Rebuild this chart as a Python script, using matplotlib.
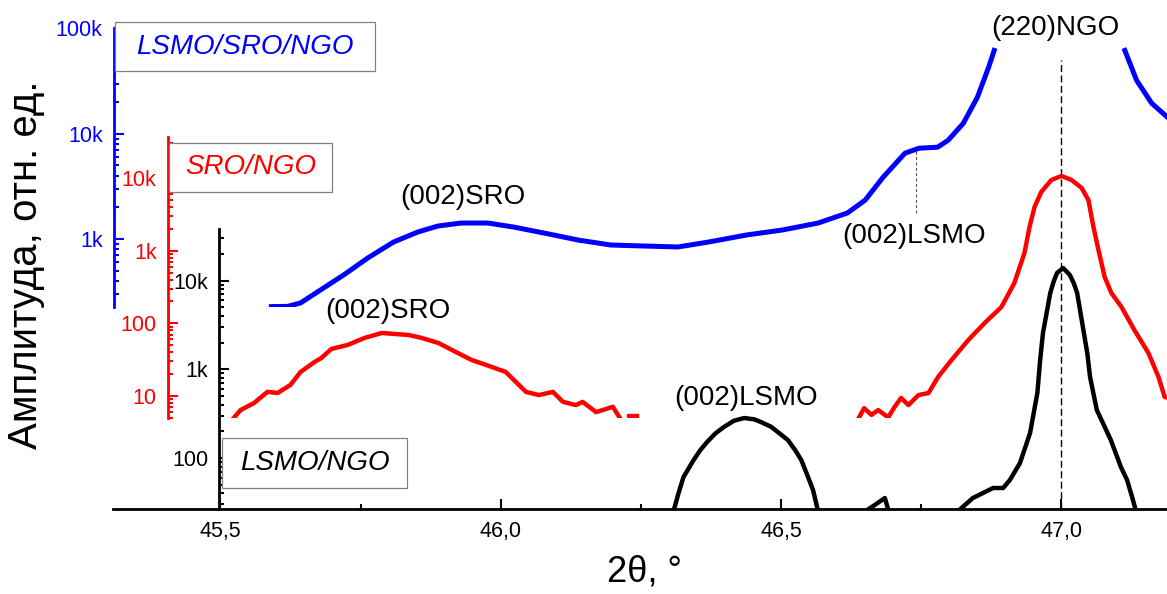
#!/usr/bin/env python3
import numpy as np
import matplotlib
matplotlib.use("Agg")
import matplotlib.pyplot as plt
from matplotlib.patches import Rectangle
from matplotlib.ticker import FixedLocator, LogLocator, FuncFormatter, NullFormatter, MultipleLocator

nan = np.nan

# LSMO/SRO/NGO (blue)
theta_blue = [45.591, 45.620, 45.643, 45.679, 45.720, 45.763, 45.809, 45.852, 45.888,
              45.929, 45.977, 46.023, 46.077, 46.138, 46.196, 46.255, 46.316, 46.371,
              46.438, 46.502, 46.566, 46.618, 46.650, 46.682, 46.721, 46.746, 46.779,
              46.798, 46.825, 46.850, 46.870, 46.880, nan, 47.113, 47.134, 47.161, 47.191]
amp_blue = [228, 229, 247, 329, 456, 661, 937, 1165, 1328,
            1418, 1418, 1299, 1140, 978, 877, 858, 840, 937,
            1091, 1217, 1418, 1764, 2343, 3870, 6535, 7288, 7447,
            8674, 12580, 22180, 42660, 61870, nan, 61870, 32140, 19450, 14030]

# SRO/NGO (red)
theta_red = [45.523, 45.536, 45.560, 45.584, 45.602, 45.625, 45.643, 45.668, 45.680,
             45.698, 45.727, 45.757, 45.788, 45.811, 45.836, 45.859, 45.889, 45.920,
             45.948, 45.979, 46.009, 46.027, 46.045, 46.068, 46.093, 46.111, 46.134,
             46.146, 46.170, 46.200, 46.213, nan, 46.229, 46.243, nan,
             46.638, 46.648, 46.661, 46.673, 46.691, 46.702, 46.714, 46.727, 46.745,
             46.763, 46.780, 46.804, 46.834, 46.863, 46.893, 46.916, 46.934, 46.943,
             46.952, 46.964, 46.982, 47.000, 47.018, 47.036, 47.048, 47.057, 47.066,
             47.077, 47.089, 47.107, 47.130, 47.155, 47.173, 47.184, 47.191]
amp_red = [4.9, 6.4, 8.0, 11.4, 11.0, 14.2, 21.4, 29.4, 33.3,
           44.4, 50.4, 62.9, 73.6, 71.3, 69.1, 62.9, 53.6, 40.3,
           31.3, 25.9, 21.4, 15.6, 11.4, 10.3, 11.4, 8.3, 7.5,
           8.3, 6.0, 7.1, 4.9, nan, 5.3, 5.3, nan,
           4.9, 6.8, 5.5, 6.4, 5.1, 7.0, 9.4, 7.5, 10.3,
           11.0, 18.3, 31.3, 59.0, 101, 168, 359, 929, 2117,
           3990, 6412, 9383, 10640, 9383, 7278, 4977, 2117, 1021,
           434, 261, 168, 80.9, 39.1, 18.3, 9.7, 9.4]

# LSMO/NGO (black)
theta_black = [46.308, 46.317, 46.326, 46.344, 46.356, 46.368, 46.383, 46.398, 46.416,
               46.434, 46.452, 46.464, 46.482, 46.494, 46.512, 46.525, 46.536, 46.548,
               46.557, 46.566, nan, 46.650, 46.667, 46.685, 46.692, nan,
               46.815, 46.842, 46.878, 46.896, 46.908, 46.926, 46.944, 46.957, 46.962,
               46.967, 46.980, 46.986, 46.992, 47.003, 47.015, 47.022, 47.028, 47.040,
               47.046, 47.051, 47.063, 47.088, 47.106, 47.117, 47.126, 47.133]
amp_black = [25, 40, 61.1, 95, 123, 151.5, 190, 223.7, 263.6,
             282.6, 273, 254.7, 225.4, 196.5, 159.6, 123, 94.9, 61.1,
             43.5, 25, nan, 25, 29.5, 35.4, 25, nan,
             25, 35.4, 45.9, 45.9, 56.5, 87.8, 191.4, 541, 1275,
             2571, 7265, 9745, 12220, 13900, 11590, 9347, 7265, 2571,
             1529, 820, 348, 159.6, 79.2, 56.5, 36.3, 25]

x_ticks = [45.5, 46.0, 46.5, 47.0]
x_tick_labels = ["45,5", "46,0", "46,5", "47,0"]
x_range = (45.3085, 47.1882)

# y ranges of the three stacked log axes
ylim_blue = (226, 1.01e5)
ylim_red = (4.98, 36600)
ylim_black = (26.6, 38300)

sample_names = ["LSMO/SRO/NGO", "SRO/NGO", "LSMO/NGO"]
peak_labels = ["(002)SRO", "(002)SRO", "(002)LSMO", "(002)LSMO", "(220)NGO"]

W, H = 1167, 594


def fmt_k(v, pos):
    if v >= 1000:
        return f"{v / 1000:g}k"
    return f"{v:g}"


def fx(x):
    return x / W


def fy(y):
    return 1 - y / H


def log_axes(fig, top_px, bottom_px, ylim, spine_x, color, majors):
    """Ось с логарифмической шкалой, занимающая полосу [top_px, bottom_px]."""
    left = 113 / W
    ax = fig.add_axes([left, fy(bottom_px), 1 - left, (bottom_px - top_px) / H])
    ax.set_facecolor("none")
    ax.set_xlim(*x_range)
    ax.set_yscale("log")
    ax.set_ylim(*ylim)
    for s in ("top", "right"):
        ax.spines[s].set_visible(False)
    ax.spines["left"].set_position(("data", spine_x))
    ax.spines["left"].set_color(color)
    ax.spines["left"].set_linewidth(2)
    ax.yaxis.set_major_locator(FixedLocator(majors))
    ax.yaxis.set_major_formatter(FuncFormatter(fmt_k))
    ax.yaxis.set_minor_locator(LogLocator(base=10, subs=np.arange(2, 10), numticks=30))
    ax.yaxis.set_minor_formatter(NullFormatter())
    ax.tick_params(axis="y", which="both", direction="in", colors=color,
                   labelsize=15.5, pad=8, width=1.5)
    ax.tick_params(axis="y", which="major", length=7)
    ax.tick_params(axis="y", which="minor", length=3.5)
    return ax


def sample_box(fig, x0, y0, x1, y1, text, color):
    rect = Rectangle((fx(x0), fy(y1)), (x1 - x0) / W, (y1 - y0) / H,
                     transform=fig.transFigure, facecolor="white",
                     edgecolor="#808080", linewidth=0.9, zorder=5)
    fig.add_artist(rect)
    fig.text(fx((x0 + x1) / 2), fy((y0 + y1) / 2), text, color=color, style="italic",
             fontsize=20, ha="center", va="center", zorder=6)


def main():
    plt.rcParams["font.family"] = ["Liberation Sans", "DejaVu Sans"]
    fig = plt.figure(figsize=(W / 100, H / 100), dpi=100)

    ax_k = log_axes(fig, 229, 509, ylim_black, 45.498, "black", [100, 1000, 10000])
    ax_r = log_axes(fig, 137, 418, ylim_red, 45.406, "#ff0000", [10, 100, 1000, 10000])
    ax_b = log_axes(fig, 28, 307, ylim_blue, 45.310, "#0000ff", [1000, 10000, 100000])

    for ax in (ax_r, ax_b):
        ax.spines["bottom"].set_visible(False)
        ax.tick_params(axis="x", which="both", bottom=False, labelbottom=False)

    # x axis lives on the black (lowest) axes
    ax_k.spines["bottom"].set_linewidth(2)
    ax_k.set_xticks(x_ticks, x_tick_labels)
    ax_k.xaxis.set_minor_locator(MultipleLocator(0.25))
    ax_k.tick_params(axis="x", which="both", direction="in", labelsize=15.5, pad=9, width=1.5)
    ax_k.tick_params(axis="x", which="major", length=7)
    ax_k.tick_params(axis="x", which="minor", length=3.5)

    ax_k.plot(theta_black, amp_black, color="black", lw=3.2)
    ax_r.plot(theta_red, amp_red, color="#ff0000", lw=3.2)
    ax_b.plot(theta_blue, amp_blue, color="#0000ff", lw=3.6)

    # peak guides
    ax_k.plot([47.0, 47.0], [ylim_black[0], 3.1e6], color="black", lw=1.0,
              linestyle=(0, (5, 2.5)), clip_on=False, zorder=1)
    ax_b.plot([46.74, 46.74], [1760, 7300], color="#404040", lw=0.7,
              linestyle=(0, (3, 2.5)), zorder=1)

    # peak labels (pixel positions)
    label_pos = [(463, 197), (388, 311), (914, 236), (746, 398), (1055, 28)]
    for txt, (px, py) in zip(peak_labels, label_pos):
        fig.text(fx(px), fy(py), txt, fontsize=20, ha="center", va="center")

    sample_box(fig, 115, 22, 375, 71, sample_names[0], "#0000ff")
    sample_box(fig, 169, 143, 332, 192, sample_names[1], "#ff0000")
    sample_box(fig, 222, 438, 407, 488, sample_names[2], "black")

    fig.text(fx(26), fy(265), "Амплитуда, отн. ед.", rotation=90, fontsize=29,
             ha="center", va="center")
    fig.text(fx(644), fy(572), "2θ, °", fontsize=26, ha="center", va="center")

    fig.savefig("out.png", dpi=100)


if __name__ == "__main__":
    main()
